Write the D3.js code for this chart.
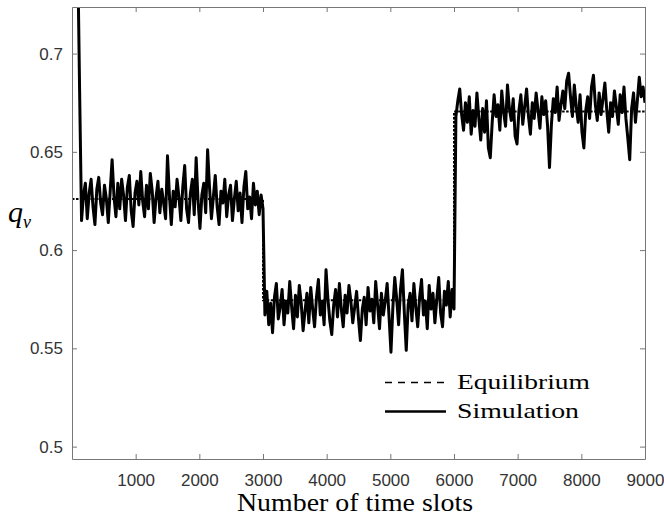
<!DOCTYPE html>
<html lang="en">
  <head>
    <meta charset="utf-8" />
    <title>q_v vs time slots</title>
    <script src="https://d3js.org/d3.v7.min.js"></script>
    <style>
      body { margin: 0; background: #fff; }
      .tick text { font-family: "Liberation Sans", Arial, sans-serif; font-size: 17px; fill: #333; }
      .serif { font-family: "Liberation Serif", "Times New Roman", serif; fill: #000; }
    </style>
  </head>
  <body>
    <div id="container"></div>
    <script>
      // equilibrium levels per period
      var eqTimes = [0, 3000, 6000, 9000];
      var eqValues = [0.626, 0.5745, 0.6705, 0.6705];

      // simulation, one sample every 30 slots
      var simStep = 30;
      // t = 0..2970 (transient then noise around 0.626)
      var simA = [0.96, 0.89, 0.82, 0.75, 0.68, 0.615,
                  0.628, 0.634, 0.616, 0.629, 0.636, 0.622, 0.613, 0.631, 0.637, 0.624,
                  0.618, 0.633, 0.626, 0.614, 0.630, 0.646, 0.627, 0.617, 0.634, 0.621,
                  0.636, 0.628, 0.615, 0.632, 0.638, 0.620, 0.612, 0.629, 0.635, 0.623,
                  0.640, 0.625, 0.617, 0.633, 0.621, 0.639, 0.630, 0.614, 0.627, 0.635,
                  0.619, 0.631, 0.624, 0.616, 0.648, 0.628, 0.613, 0.630, 0.622, 0.636,
                  0.627, 0.615, 0.632, 0.643, 0.621, 0.614, 0.629, 0.636, 0.618, 0.647,
                  0.625, 0.611, 0.628, 0.634, 0.619, 0.651, 0.632, 0.616, 0.627, 0.638,
                  0.622, 0.613, 0.630, 0.624, 0.636, 0.617, 0.628, 0.633, 0.615, 0.626,
                  0.635, 0.620, 0.629, 0.614, 0.632, 0.640, 0.621, 0.627, 0.616, 0.634,
                  0.623, 0.630, 0.618, 0.628];
      // t = 3000..5970
      var simB = [0.621, 0.567, 0.579, 0.562, 0.573, 0.558, 0.576, 0.583, 0.565, 0.571,
                  0.580, 0.562, 0.574, 0.568, 0.584, 0.571, 0.560, 0.577, 0.566, 0.582,
                  0.573, 0.559, 0.569, 0.578, 0.563, 0.581, 0.570, 0.561, 0.576, 0.585,
                  0.567, 0.574, 0.562, 0.590, 0.575, 0.564, 0.557, 0.572, 0.580, 0.566,
                  0.583, 0.570, 0.561, 0.577, 0.568, 0.582, 0.574, 0.563, 0.571, 0.579,
                  0.565, 0.554, 0.570, 0.576, 0.562, 0.581, 0.569, 0.575, 0.563, 0.584,
                  0.572, 0.560, 0.578, 0.567, 0.574, 0.583, 0.566, 0.548, 0.571, 0.586,
                  0.575, 0.562, 0.580, 0.590, 0.568, 0.549, 0.572, 0.578, 0.564, 0.583,
                  0.571, 0.561, 0.576, 0.585, 0.567, 0.574, 0.560, 0.582, 0.570, 0.578,
                  0.563, 0.575, 0.586, 0.568, 0.561, 0.579, 0.572, 0.584, 0.566, 0.580];
      // t = 6000..9000
      var simC = [0.570, 0.668, 0.676, 0.682, 0.669, 0.661, 0.675, 0.665, 0.678, 0.659,
                  0.671, 0.663, 0.680, 0.667, 0.656, 0.672, 0.660, 0.676, 0.652, 0.647,
                  0.665, 0.679, 0.668, 0.674, 0.661, 0.681, 0.670, 0.663, 0.684, 0.672,
                  0.666, 0.677, 0.658, 0.654, 0.671, 0.679, 0.664, 0.673, 0.682, 0.668,
                  0.659, 0.675, 0.667, 0.680, 0.671, 0.662, 0.678, 0.669, 0.676, 0.663,
                  0.642, 0.664, 0.677, 0.670, 0.683, 0.666, 0.674, 0.681, 0.672, 0.686,
                  0.690, 0.678, 0.668, 0.684, 0.673, 0.665, 0.679, 0.660, 0.652, 0.671,
                  0.678, 0.667, 0.683, 0.689, 0.674, 0.666, 0.680, 0.669, 0.677, 0.685,
                  0.671, 0.660, 0.675, 0.668, 0.681, 0.673, 0.664, 0.679, 0.670, 0.683,
                  0.667, 0.657, 0.646, 0.672, 0.680, 0.665, 0.676, 0.688, 0.678, 0.683,
                  0.675];

      var xTicks = [1000, 2000, 3000, 4000, 5000, 6000, 7000, 8000, 9000];
      var yTicks = [0.5, 0.55, 0.6, 0.65, 0.7];

      var width = 664;
      var height = 518;
      var margin = { left: 72, right: 19, top: 7, bottom: 59 };
      var iw = width - margin.left - margin.right;
      var ih = height - margin.top - margin.bottom;

      var simValues = simA.concat(simB, simC);
      var sim = simValues.map(function (v, i) { return { t: i * simStep, v: v }; });
      var eq = eqTimes.map(function (t, i) { return { t: t, v: eqValues[i] }; });

      var x = d3.scaleLinear().domain([0, 9000]).range([0, iw]);
      var y = d3.scaleLinear().domain([0.4937, 0.7237]).range([ih, 0]);

      var svg = d3.select("#container").append("svg")
        .attr("width", width).attr("height", height);

      svg.append("defs").append("clipPath").attr("id", "clip")
        .append("rect").attr("width", iw).attr("height", ih);

      var g = svg.append("g")
        .attr("transform", "translate(" + margin.left + "," + margin.top + ")");

      var plot = g.append("g").attr("clip-path", "url(#clip)");

      var line = d3.line()
        .x(function (d) { return x(d.t); })
        .y(function (d) { return y(d.v); });

      plot.append("path")
        .datum(eq)
        .attr("d", line.curve(d3.curveStepAfter))
        .attr("fill", "none")
        .attr("stroke", "#000")
        .attr("stroke-width", 2)
        .attr("stroke-dasharray", "2.5,1.5");

      plot.append("path")
        .datum(sim)
        .attr("d", line.curve(d3.curveLinear))
        .attr("fill", "none")
        .attr("stroke", "#000")
        .attr("stroke-width", 3)
        .attr("stroke-linejoin", "round");

      // axes, matlab box style with inward ticks
      function styleAxis(sel) {
        sel.select(".domain").attr("stroke", "#777");
        sel.selectAll(".tick line").attr("stroke", "#777");
      }

      g.append("g")
        .attr("transform", "translate(0," + ih + ")")
        .call(d3.axisBottom(x).tickValues(xTicks).tickSizeInner(-5).tickSizeOuter(0).tickPadding(15)
          .tickFormat(d3.format("d")))
        .call(styleAxis);

      g.append("g")
        .call(d3.axisTop(x).tickValues(xTicks).tickSizeInner(-5).tickSizeOuter(0).tickFormat(""))
        .call(styleAxis);

      g.append("g")
        .call(d3.axisLeft(y).tickValues(yTicks).tickSizeInner(-5).tickSizeOuter(0).tickPadding(9)
          .tickFormat(d3.format("~g")))
        .call(styleAxis);

      g.append("g")
        .attr("transform", "translate(" + iw + ",0)")
        .call(d3.axisRight(y).tickValues(yTicks).tickSizeInner(-5).tickSizeOuter(0).tickFormat(""))
        .call(styleAxis);

      // axis titles
      svg.append("text")
        .attr("class", "serif")
        .attr("x", 237)
        .attr("y", 511)
        .attr("textLength", 236)
        .attr("lengthAdjust", "spacingAndGlyphs")
        .style("font-size", "25px")
        .text("Number of time slots");

      var ylab = svg.append("text")
        .attr("class", "serif")
        .attr("x", 8)
        .attr("y", 222)
        .style("font-style", "italic")
        .style("font-size", "30px");
      ylab.append("tspan").text("q");
      ylab.append("tspan").attr("dy", 6).style("font-size", "18px").text("v");

      // legend
      var legendItems = [
        { label: "Equilibrium", dash: "7,6", y: 382.5, len: 133 },
        { label: "Simulation", dash: null, y: 411.5, len: 122 }
      ];
      var lg = svg.append("g");
      legendItems.forEach(function (d) {
        lg.append("line")
          .attr("x1", 385).attr("x2", 446)
          .attr("y1", d.y).attr("y2", d.y)
          .attr("stroke", "#000")
          .attr("stroke-width", d.dash ? 1.5 : 2.4)
          .attr("stroke-dasharray", d.dash);
        lg.append("text")
          .attr("class", "serif")
          .attr("x", 457)
          .attr("y", d.y + 6)
          .attr("textLength", d.len)
          .attr("lengthAdjust", "spacingAndGlyphs")
          .style("font-size", "21px")
          .text(d.label);
      });
    </script>
  </body>
</html>
